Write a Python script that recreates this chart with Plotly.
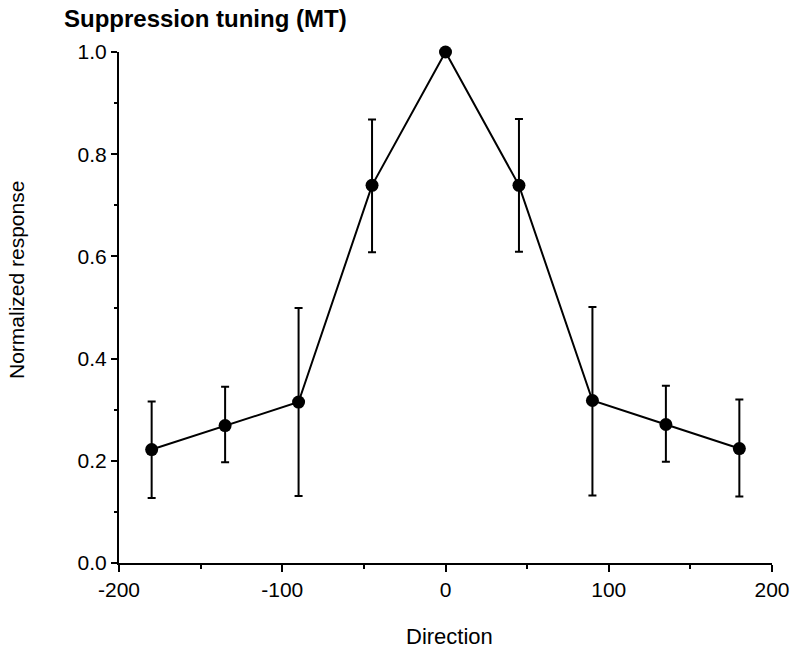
import plotly.graph_objects as go

direction = [-180, -135, -90, -45, 0, 45, 90, 135, 180]
response = [0.222, 0.269, 0.315, 0.739, 1.0, 0.739, 0.318, 0.271, 0.224]
err_plus = [0.094, 0.076, 0.184, 0.129, None, 0.130, 0.183, 0.076, 0.096]
err_minus = [0.095, 0.072, 0.184, 0.131, None, 0.130, 0.186, 0.073, 0.094]

title_text = "Suppression tuning (MT)"
x_title = "Direction"
y_title = "Normalized response"

x_ticks = [-200, -100, 0, 100, 200]
y_ticks = [0.0, 0.2, 0.4, 0.6, 0.8, 1.0]

FONT = "Liberation Sans, Arial, Helvetica, sans-serif"

fig = go.Figure()
fig.add_trace(go.Scatter(
    x=direction, y=response,
    mode="lines+markers",
    cliponaxis=False,
    line=dict(color="black", width=2),
    marker=dict(color="black", size=13),
    error_y=dict(type="data", symmetric=False, array=err_plus, arrayminus=err_minus,
                 color="black", thickness=2, width=4),
    showlegend=False,
))

fig.update_layout(
    template="none",
    width=791, height=650,
    margin=dict(l=119, r=19, t=52, b=86.5, pad=0),
    paper_bgcolor="white", plot_bgcolor="white",
    font=dict(family=FONT, color="black", size=21),
    xaxis=dict(range=[-200, 200], tickvals=x_ticks, ticktext=[f"{v:d}" for v in x_ticks],
               automargin=False,
               showgrid=False, zeroline=False, showline=True, linecolor="black", linewidth=2,
               ticks="outside", ticklen=7, tickwidth=2, tickcolor="black",
               minor=dict(dtick=50, ticks="outside", ticklen=4, tickwidth=2, tickcolor="black"),
               tickfont=dict(size=21, family=FONT)),
    yaxis=dict(range=[0, 1.0], tickvals=y_ticks, ticktext=[f"{v:.1f}" for v in y_ticks],
               automargin=False,
               showgrid=False, zeroline=False, showline=True, linecolor="black", linewidth=2,
               ticks="outside", ticklen=6, tickwidth=2, tickcolor="black",
               minor=dict(dtick=0.1, ticks="outside", ticklen=3, tickwidth=2, tickcolor="black"),
               tickfont=dict(size=21, family=FONT)),
    annotations=[
        dict(text=f"<b>{title_text}</b>", xref="paper", yref="paper", x=-0.0873, y=1.0665,
             xanchor="left", yanchor="middle", showarrow=False, font=dict(size=24, family=FONT)),
        dict(text=x_title, xref="paper", yref="paper", x=0.506, y=-0.1437,
             xanchor="center", yanchor="middle", showarrow=False, font=dict(size=22, family=FONT)),
        dict(text=y_title, xref="paper", yref="paper", x=-0.156, y=0.554, textangle=-90,
             xanchor="center", yanchor="middle", showarrow=False, font=dict(size=21, family=FONT)),
    ],
)

fig.write_html("out.html", config={"displayModeBar": False},
               post_script="document.body.style.margin='0';document.body.style.overflow='hidden';")
